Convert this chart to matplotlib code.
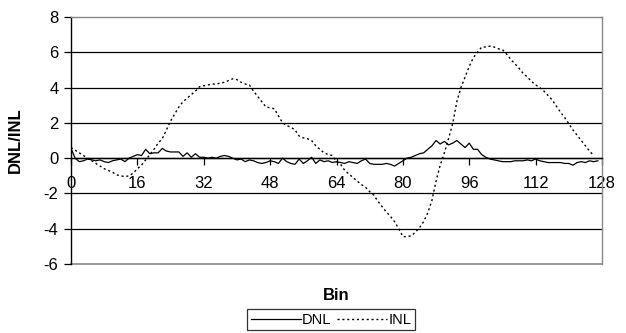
import matplotlib
matplotlib.use("Agg")
import matplotlib.pyplot as plt
from matplotlib.lines import Line2D

plt.rcParams['font.family'] = ['Liberation Sans', 'DejaVu Sans']

dnl = [0.55, 0.0, -0.2, -0.15, -0.05, -0.1, -0.15, -0.1, -0.2, -0.25,
       -0.15, -0.1, -0.05, -0.2, 0.0, 0.1, 0.2, 0.15, 0.5, 0.25,
       0.3, 0.3, 0.55, 0.4, 0.35, 0.35, 0.35, 0.1, 0.3, 0.05,
       0.25, 0.05, 0.05, 0.0, 0.05, 0.0, 0.1, 0.15, 0.1, 0.0,
       -0.1, -0.05, -0.2, -0.1, -0.15, -0.25, -0.3, -0.25, -0.15, -0.2,
       -0.3, 0.0, -0.2, -0.3, -0.35, -0.05, -0.3, -0.15, 0.05, -0.3,
       -0.1, -0.2, -0.15, -0.25, -0.2, -0.25, -0.3, -0.2, -0.25, -0.3,
       -0.15, -0.05, -0.3, -0.35, -0.35, -0.35, -0.3, -0.35, -0.45, -0.3,
       -0.15, 0.0, 0.05, 0.15, 0.25, 0.3, 0.5, 0.7, 1.0, 0.8,
       0.95, 0.75, 0.85, 1.0, 0.8, 0.6, 0.85, 0.5, 0.5, 0.2,
       0.05, -0.05, -0.1, -0.15, -0.2, -0.2, -0.2, -0.15, -0.15, -0.15,
       -0.1, -0.15, -0.05, -0.15, -0.2, -0.25, -0.25, -0.25, -0.25, -0.3,
       -0.3, -0.4, -0.25, -0.2, -0.25, -0.15, -0.2, -0.15]

inl = [0.6, 0.45, 0.3, 0.15, 0.0, -0.15, -0.3, -0.45, -0.6, -0.7,
       -0.8, -0.95, -1.0, -1.05, -1.0, -0.85, -0.6, -0.4, -0.1, 0.2,
       0.5, 0.85, 1.1, 1.6, 2.1, 2.5, 2.9, 3.2, 3.4, 3.6,
       3.8, 4.05, 4.1, 4.15, 4.2, 4.2, 4.25, 4.3, 4.4, 4.5,
       4.45, 4.3, 4.2, 4.15, 3.8, 3.5, 3.2, 2.9, 2.85, 2.8,
       2.4, 2.0, 1.85, 1.75, 1.6, 1.25, 1.15, 1.1, 1.0, 0.7,
       0.5, 0.3, 0.2, 0.15, -0.2, -0.35, -0.7, -0.9, -1.1, -1.3,
       -1.5, -1.65, -1.9, -2.1, -2.45, -2.75, -3.05, -3.3, -3.6, -4.0,
       -4.45, -4.45, -4.4, -4.2, -3.95, -3.6, -3.1, -2.4, -1.3, -0.4,
       0.3, 1.1, 1.95, 3.2, 4.0, 4.6, 5.2, 5.7, 6.0, 6.3,
       6.3, 6.35, 6.3, 6.2, 6.15, 5.9, 5.6, 5.35, 5.1, 4.8,
       4.6, 4.35, 4.15, 4.0, 3.8, 3.55, 3.3, 2.95, 2.6, 2.3,
       1.95, 1.6, 1.3, 1.0, 0.7, 0.4, 0.15]

x_ticks = [0, 16, 32, 48, 64, 80, 96, 112, 128]
y_ticks = [-6, -4, -2, 0, 2, 4, 6, 8]

fig = plt.figure(figsize=(6.26, 3.33), dpi=100)
ax = fig.add_axes([71/626, 1-264/333, (602-71)/626, (264-17)/333])

ax.set_xlim(0, 128)
ax.set_ylim(-6, 8)

for yv in y_ticks:
    if yv in (-6, 8):
        continue
    ax.axhline(yv, color='black', lw=0.9, zorder=1)

ax.plot(range(len(dnl)), dnl, color='black', lw=0.9, zorder=3)
ax.plot(range(len(inl)), inl, color='black', lw=1.0, linestyle=(0, (1.5, 2.0)), zorder=3)

ax.spines['top'].set_color('#888888')
ax.spines['right'].set_color('#888888')
ax.spines['left'].set_color('black')
ax.spines['bottom'].set_position(('data', 0))
ax.spines['bottom'].set_color('black')
ax.axhline(-6, color='#888888', lw=1.2, zorder=1, clip_on=False)
for s in ax.spines.values():
    s.set_linewidth(1.0)

ax.set_xticks(x_ticks)
ax.set_xticklabels([str(v) for v in x_ticks])
ax.set_yticks(y_ticks)
ax.set_yticklabels([str(v) for v in y_ticks])
ax.tick_params(axis='x', direction='out', length=5, width=0.9, pad=8, labelsize=12)
ax.tick_params(axis='y', direction='out', length=5, width=0.9, pad=4, labelsize=12)

fig.text(336/626, 1-295/333, 'Bin', fontweight='bold', fontsize=12, ha='center', va='center')
fig.text(15/626, 1-140/333, 'DNL/INL', fontweight='bold', fontsize=12, ha='center', va='center', rotation=90)

handles = [Line2D([], [], color='black', lw=0.9),
           Line2D([], [], color='black', lw=1.0, linestyle=(0, (1.5, 2.0)))]
leg = fig.legend(handles, ['DNL', 'INL'], loc='upper center', bbox_to_anchor=(331/626, 1-309/333),
                 ncol=2, frameon=True, fancybox=False, fontsize=10.5, handlelength=3.4,
                 handletextpad=0.1, columnspacing=0.4, borderpad=0.25, borderaxespad=0)
leg.get_frame().set_edgecolor('black')
leg.get_frame().set_linewidth(0.9)

fig.savefig('out.png', dpi=100)
